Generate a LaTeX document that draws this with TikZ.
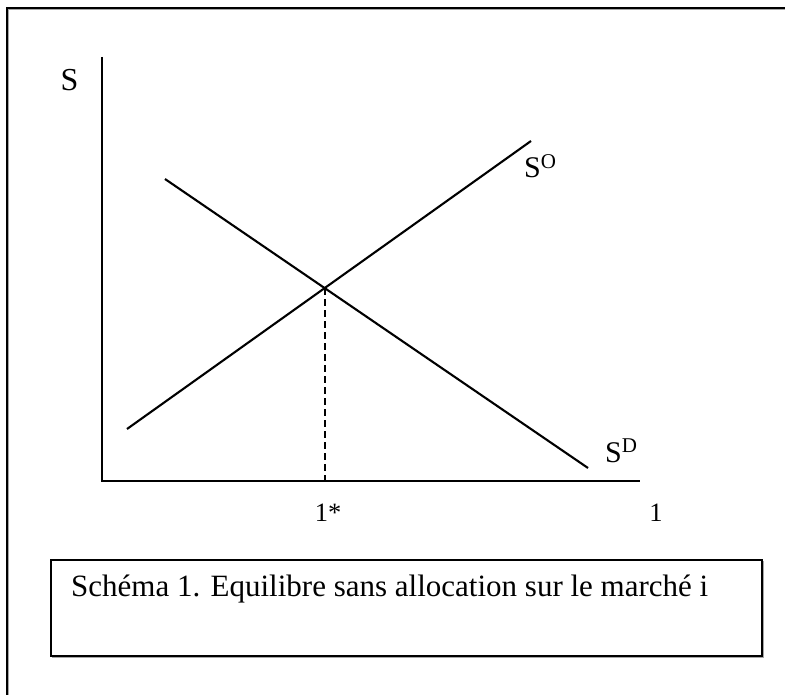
\documentclass[tikz,border=0pt]{standalone}
\usepackage{fontspec}
\setmainfont{Liberation Serif}
\begin{document}
\begin{tikzpicture}[x=1pt,y=-1pt,
  axis/.style={line width=2pt,black},
  curve/.style={line width=2.1pt,black},
  guide/.style={line width=1.9pt,black,dash pattern=on 7pt off 4pt},
  frame/.style={line width=2.2pt,black},
  lbl/.style={inner sep=0pt,font=\fontsize{30}{35}\selectfont},
  ticklbl/.style={inner sep=0pt,font=\fontsize{26.5}{30}\selectfont},
  captext/.style={inner sep=0pt,font=\fontsize{31}{36}\selectfont}]
\useasboundingbox (0,0) rectangle (785,695);
% outer frame (continues beyond the page)
\draw[line width=1pt,gray!70] (8.5,700) -- (8.5,9.8) -- (790,9.8);
\draw[frame] (7,700) -- (7,8) -- (790,8);
% axes
\coordinate (O) at (101.5,480.5);
\coordinate (ytop) at (101.5,57);
\coordinate (xend) at (640,480.5);
\draw[axis] (ytop) -- (O) -- (xend);
% curves
\coordinate (so1) at (127,429);
\coordinate (so2) at (531,141);
\coordinate (sd1) at (165,179);
\coordinate (sd2) at (588,468);
\draw[curve] (so1) -- (so2);
\draw[curve] (sd1) -- (sd2);
\coordinate (eq) at (intersection of so1--so2 and sd1--sd2);
\coordinate (eqx) at (eq |- O);
\draw[guide] (eq) -- (eqx);
% labels
\node[lbl,anchor=base,font=\fontsize{32}{36}\selectfont] (ylab) at (69.5,91) {S};
\node[lbl,anchor=base west] (solab) at (524,178) {S\textsuperscript{O}};
\node[lbl,anchor=base west] (sdlab) at (605,462) {S\textsuperscript{D}};
\node[ticklbl,anchor=base] (tstar) at (328,521) {1*};
\node[ticklbl,anchor=base] (tone) at (656,521) {1};
% caption box
\draw[line width=1pt,gray!70] (52,657) -- (763,657) -- (763,561);
\node[draw,line width=2pt,minimum width=711pt,minimum height=96pt,inner sep=0pt,anchor=north west] (capbox) at (50,559) {};
\node[captext,anchor=base west] (cap) at (71,596) {Schéma 1. Equilibre sans allocation sur le marché i};
\end{tikzpicture}
\end{document}
